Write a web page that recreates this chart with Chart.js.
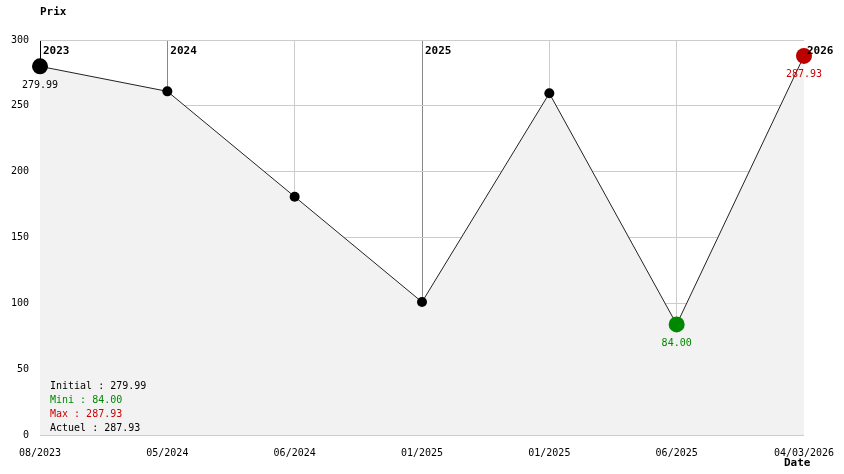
<!DOCTYPE html>
<html><head><meta charset="utf-8">
<script src="https://cdn.jsdelivr.net/npm/chart.js@4"></script>
<style>html,body{margin:0;padding:0;background:#fff}#wrap{width:844px;height:474px}</style>
</head><body><div id="wrap"><canvas id="c" width="844" height="474"></canvas></div>
<script>
const categories = ['08/2023','05/2024','06/2024','01/2025','01/2025','06/2025','04/03/2026'];
const prices = [279.99, 261, 181, 101, 259.5, 84.00, 287.93];
const yearIndex = [0, 1, 3, 6];
const yearLabels = ['2023','2024','2025','2026'];
const yTicks = [0, 50, 100, 150, 200, 250, 300];
const summaryLabels = ['Initial : 279.99','Mini : 84.00','Max : 287.93','Actuel : 287.93'];
const summaryColors = ['#000','#008800','#cc0000','#000'];

const iMin = prices.indexOf(Math.min(...prices));
const iMax = prices.indexOf(Math.max(...prices));
const FONT = '"DejaVu Sans Mono", monospace';

const overlay = {
  id: 'overlay',
  afterDatasetsDraw(chart) {
    const ctx = chart.ctx, area = chart.chartArea;
    const xs = chart.scales.x;
    const meta = chart.getDatasetMeta(0);
    ctx.save();
    ctx.font = 'bold 11px ' + FONT;
    ctx.fillStyle = '#000';
    ctx.textAlign = 'left'; ctx.textBaseline = 'middle';
    yearIndex.forEach((idx, k) => {
      ctx.fillText(yearLabels[k], xs.getPixelForValue(idx) + 3, area.top + 11);
    });
    ctx.font = '10px ' + FONT;
    ctx.textBaseline = 'middle';
    const lab = (i, color) => {
      const p = meta.data[i];
      ctx.fillStyle = color;
      ctx.textAlign = 'center';
      ctx.fillText(prices[i].toFixed(2), p.x, p.y + 19);
    };
    lab(0, '#000');
    lab(iMin, '#008800');
    lab(iMax, '#cc0000');
    ctx.textAlign = 'left';
    summaryLabels.forEach((t, k) => {
      ctx.fillStyle = summaryColors[k];
      ctx.fillText(t, area.left + 10, area.bottom - 49 + k * 14);
    });
    ctx.font = 'bold 11px ' + FONT;
    ctx.fillStyle = '#000';
    ctx.fillText('Prix', area.left, 12);
    ctx.fillText('Date', area.right - 20, 463);
    ctx.restore();
  }
};

new Chart(document.getElementById('c'), {
  type: 'line',
  data: {
    labels: categories,
    datasets: [{
      data: prices,
      borderColor: '#222',
      borderWidth: 1,
      backgroundColor: '#f2f2f2',
      fill: 'origin',
      tension: 0,
      pointBackgroundColor: prices.map((v, i) => i === iMin ? '#008800' : i === iMax ? '#bb0000' : '#000'),
      pointBorderColor: prices.map((v, i) => i === iMin ? '#008800' : i === iMax ? '#bb0000' : '#000'),
      pointRadius: prices.map((v, i) => (i === 0 || i === iMin || i === iMax) ? 8 : 5),
      pointBorderWidth: 0
    }]
  },
  options: {
    responsive: false,
    animation: false,
    events: [],
    layout: { padding: { top: 40, right: 40, left: 0, bottom: 0 } },
    plugins: { legend: { display: false }, tooltip: { enabled: false } },
    scales: {
      x: {
        type: 'category',
        offset: false,
        grid: {
          color: c => c.index === categories.length - 1 ? 'rgba(0,0,0,0)' :
            (yearIndex.includes(c.index) ? (c.index === 0 ? '#000' : '#888') : '#cccccc'),
          drawTicks: false
        },
        border: { display: false },
        ticks: { color: '#000', font: { family: FONT, size: 10 }, padding: 12, maxRotation: 0, autoSkip: false },
        afterFit(s) { s.height = 39; s.paddingLeft = 0; s.paddingRight = 0; }
      },
      y: {
        min: 0, max: 300,
        afterBuildTicks(s) { s.ticks = yTicks.map(v => ({ value: v })); },
        grid: { color: '#cccccc', drawTicks: false },
        border: { display: false },
        ticks: { color: '#000', font: { family: FONT, size: 10 }, padding: 11 },
        afterFit(s) { s.width = 40; s.paddingTop = 0; s.paddingBottom = 0; }
      }
    }
  },
  plugins: [overlay]
});
</script>
</body></html>
